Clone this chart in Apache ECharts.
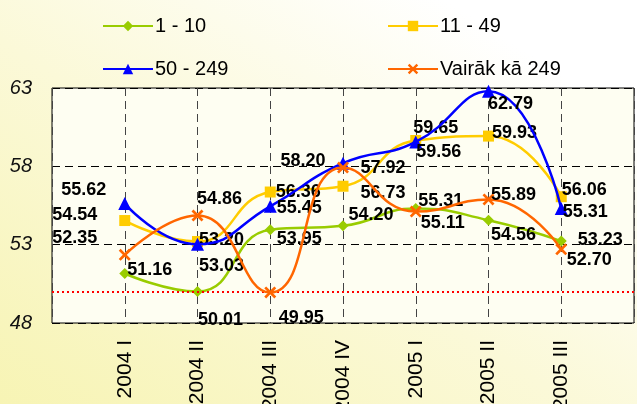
<!DOCTYPE html>
<html>
<head>
<meta charset="utf-8">
<script src="https://cdn.jsdelivr.net/npm/echarts@6/dist/echarts.min.js"></script>
<style>
  html, body { margin: 0; padding: 0; }
  body {
    width: 637px; height: 404px; overflow: hidden;
    background: linear-gradient(to top right, #f7f4b4 0%, #fbf9d8 45%, #ffffff 85%);
  }
  #chart { width: 637px; height: 404px; }
</style>
</head>
<body>
<div id="chart"></div>
<script>
// Quarters on the x axis (blank slots pad both ends of the axis)
const quarters = ['2004 I', '2004 II', '2004 III', '2004 IV', '2005 I', '2005 II', '2005 III'];

// Series values per quarter
const names = ['1 - 10', '11 - 49', '50 - 249', 'Vairāk kā 249'];
const size1to10   = [51.16, 50.01, 53.95, 54.20, 55.31, 54.56, 53.23];
const size11to49  = [54.54, 53.20, 56.36, 56.73, 59.65, 59.93, 56.06];
const size50to249 = [55.62, 53.03, 55.45, 58.20, 59.56, 62.79, 55.31];
const sizeOver249 = [52.35, 54.86, 49.95, 57.92, 55.11, 55.89, 52.70];

// Reference level drawn as a dotted line
const referenceLevel = 50;

// Y axis range
const yMin = 48, yMax = 63, yStep = 5;

// Label placement (offset of the label centre from its point)
const labelOffsets = [
  [[25, -3], [23, 29], [29, 9], [28, -11], [25, -7], [25, 15], [39, -1]],
  [[-50, -6], [24, -2], [28, 0], [40, 7], [20, -12], [26, -3], [23, -7]],
  [[-41, -14], [24, 22], [29, 2], [-40, -2], [23, 10], [22, 13], [24, 4]],
  [[-50, -17], [22, -16], [31, 26], [40, 0], [27, 11], [25, -4], [28, 11]]
];

const colors = ['#99cc00', '#ffcc00', '#0000ff', '#ff6600'];
const crossPath = 'path://M0,1.6 L1.6,0 L5,3.4 L8.4,0 L10,1.6 L6.6,5 L10,8.4 L8.4,10 L5,6.6 L1.6,10 L0,8.4 L3.4,5 Z';
const symbols = ['diamond', 'rect', 'triangle', crossPath];
const symbolSizes = [11, 11, 13, 12];
const values = [size1to10, size11to49, size50to249, sizeOver249];

const font = '"Liberation Sans", Arial, sans-serif';

const categories = [''].concat(quarters, ['']);

const series = values.map((vals, s) => {
  const data = ['-'].concat(vals.map((v, i) => ({
    value: v,
    label: { offset: labelOffsets[s][i] }
  })), ['-']);
  const item = {
    name: names[s],
    type: 'line',
    smooth: 0.5,
    data: data,
    symbol: symbols[s],
    symbolSize: symbolSizes[s],
    showAllSymbol: true,
    lineStyle: { color: colors[s], width: 2.5 },
    itemStyle: { color: colors[s] },
    label: {
      show: true,
      position: 'inside',
      color: '#000',
      fontFamily: font,
      fontWeight: 'bold',
      fontSize: 18,
      formatter: p => Number(p.value).toFixed(2)
    },
    emphasis: { disabled: true },
    z: 3 + s
  };
  if (s === 0) {
    item.markLine = {
      silent: true,
      symbol: ['none', 'none'],
      label: { show: false },
      lineStyle: { color: '#ff0000', type: [2, 3], width: 2 },
      data: [{ yAxis: referenceLevel }]
    };
  }
  return item;
});

const legendPos = [[97, 11], [382, 11], [97, 54], [382, 54]];
const legends = names.map((n, i) => ({
  data: [n],
  left: legendPos[i][0],
  top: legendPos[i][1],
  itemWidth: 50,
  itemHeight: 13,
  itemGap: 0,
  selectedMode: false,
  textStyle: { fontFamily: font, fontSize: 20, color: '#000', padding: [0, 0, 0, -3] }
}));

const chart = echarts.init(document.getElementById('chart'), null, { renderer: 'canvas' });
chart.setOption({
  animation: false,
  backgroundColor: 'transparent',
  legend: legends,
  grid: {
    left: 52, right: 3, top: 88, bottom: 81,
    outerBoundsMode: 'none',
    containLabel: false,
    show: true,
    backgroundColor: '#fefef2',
    borderColor: '#000',
    borderWidth: 1
  },
  xAxis: {
    type: 'category',
    data: categories,
    boundaryGap: false,
    axisLine: { show: false },
    axisTick: { show: false },
    axisLabel: {
      rotate: 90,
      interval: 0,
      margin: 17,
      fontFamily: font,
      fontSize: 21,
      color: '#000'
    },
    splitLine: { show: true, lineStyle: { color: '#444', type: [8, 5], width: 1 } }
  },
  yAxis: {
    type: 'value',
    min: yMin,
    max: yMax,
    interval: yStep,
    axisLine: { show: false },
    axisTick: { show: false },
    axisLabel: {
      margin: 20,
      fontFamily: font,
      fontStyle: 'italic',
      fontSize: 20,
      color: '#111'
    },
    splitLine: { show: true, lineStyle: { color: '#000', type: [8, 5], width: 1 } }
  },
  series: series
});
</script>
</body>
</html>
